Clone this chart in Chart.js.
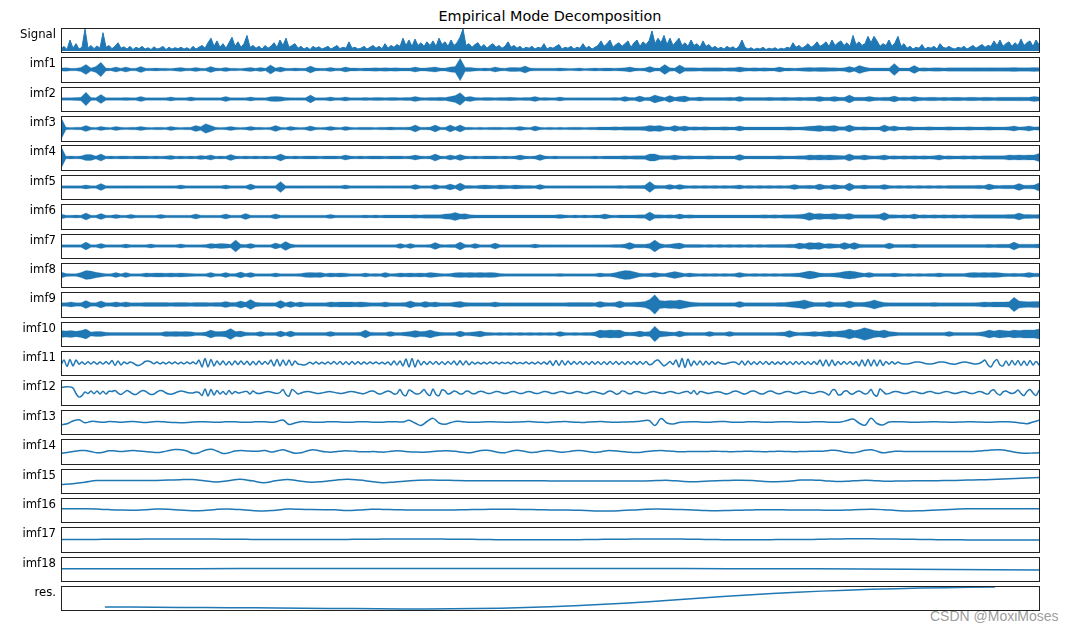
<!DOCTYPE html>
<html>
<head>
<meta charset="utf-8">
<title>Empirical Mode Decomposition</title>
<script src="https://cdn.jsdelivr.net/npm/chart.js"></script>
<style>
body { margin: 0; background: #fff; width: 1074px; height: 631px; overflow: hidden; position: relative; }
canvas { position: absolute; left: 0; }
#title { position: absolute; left: 300px; width: 500px; top: 9px; text-align: center; font: 14.4px/14.4px "DejaVu Sans"; color: #000; }
#mark { position: absolute; left: 930px; top: 609px; font: 14px/14px "Liberation Sans"; color: rgba(130,130,130,0.8); white-space: nowrap; }
</style>
</head>
<body>
<div id="title">Empirical Mode Decomposition</div>
<div id="mark">CSDN @MoxiMoses</div>
<script>
const panelNames = ["Signal", "imf1", "imf2", "imf3", "imf4", "imf5", "imf6", "imf7", "imf8", "imf9",
	"imf10", "imf11", "imf12", "imf13", "imf14", "imf15", "imf16", "imf17", "imf18", "res."];

// signal (height above zero)
const signalValues = [
	2,5,1.5,12,3,8,2,4,24,3,6,2.5,5.5,3,20,4,6,2.5,5,9,
	3,4.5,2,5,1.5,4,2.5,5,2,3.5,1.5,4.5,2,3,5,1.5,4,2,3.5,2.5,
	4,2,3.5,1.5,5,2,4,6,3,9,14,5,11,4,8,3,9,15,5,10,
	4,8,17,4,6,3,5,2,6,3,5,9,4,12,6,14,4,6,8,3,
	5,2,4,1.5,5,3,4.5,2,3.5,5,2,4,6,2.5,4,3,10,3,4,2,
	3,5,2,4,6,3,5,2.5,8,3,6,4,7,5,14,6,12,5,13,6,
	9,5,10,6,11,5,14,7,10,5,12,6,9,15,24,6,8,4,7,9,
	4,7,3,6,8,4,6,3,5,10,4,6,3,5,2,4,3,5,2,4,
	3,8,2,4,3,5,7,2,4,3,5,2,4,3,8,3,5,2,4,6,
	11,5,8,12,4,7,9,5,8,11,4,9,12,5,10,7,11,22,8,14,
	9,17,7,14,6,10,14,6,9,5,12,6,8,4,11,5,7,3,5,2.5,
	4,2,5,3,4.5,2,5,12,4,2,3.5,1.5,3,2,4,1.5,3,2,3.5,1.5,
	3,2,4,3,9,4,6,3,5,8,4,6,10,5,7,10,5,12,6,9,
	11,6,9,5,17,7,10,6,8,16,9,16,11,5,8,6,12,5,9,16,
	5,8,3,5,2,4,3,7,2,4,3,5,2,8,4,3,5,3,2,4,
	3,5,2,4,6,3,5,7,4,6,5,11,6,12,5,8,10,5,9,6,
	13,6,9,11,5,12,7
];

// amplitude envelopes of the dense imfs
const imf1Env = [
	1.5,1.8,1.2,1.3,2,5,1.5,3,7,1.4,1.2,2.5,1.3,2.5,1.2,1.3,3,1.3,1.2,1.4,
	1.2,1.3,1.1,1.4,2,1.3,1.2,2,1.3,1.2,3,1.4,1.3,2,1.2,1.3,1.1,1.4,2,1.3,
	2,1.3,4.5,1.4,2.5,1.3,1.2,1.4,1.2,1.3,3.5,1.4,1.2,1.3,2,1.3,1.2,2.5,1.4,1.5,
	1.3,1.4,1.5,1.6,1.5,1.7,1.5,1.6,1.5,1.4,1.5,2.5,1.4,1.5,2,2.5,1.5,1.4,2.5,3,
	11,2,2,1.4,1.3,1.4,1.3,2.5,1.4,1.3,2,2,1.8,3.5,1.5,1.3,1.2,1.3,1.2,1.3,
	1.5,1.2,1.1,1.2,1.5,1.1,1.3,1.4,1.3,1.5,1.4,1.3,1.4,1.6,2.5,1.4,1.3,1.4,3,1.5,
	1.5,5,1.6,1.5,4.5,1.6,1.7,1.6,1.5,1.7,1.6,1.8,1.6,1.5,1.7,1.6,2.5,1.6,1.5,1.7,
	1.5,1.6,1.4,1.5,2.5,1.4,1.5,1.3,1.4,1.8,2,1.7,1.9,2,1.8,1.6,1.5,1.7,3,1.6,
	4,2.5,1.5,1.4,1.5,1.4,1.5,6,1.5,1.4,1.5,4,1.5,1.6,1.5,1.7,1.6,1.5,1.7,1.6,
	1.6,1.7,1.6,1.8,1.7,1.6,1.8,1.7,1.6,1.7,1.8,2,1.7,1.6,1.7,2,1.8
];
const imf2Env = [
	1.3,1.4,1.3,1.5,1.8,7,1.5,1.3,4.7,1.4,1.3,1.4,1.3,1.5,1.3,1.4,2.5,1.3,1.4,1.3,
	1.3,1.4,2,1.3,1.4,1.3,2,1.4,1.3,1.4,1.3,1.4,1.3,2.5,1.4,1.3,1.4,1.3,2,1.4,
	1.4,1.3,2.2,2.5,2.3,1.5,1.4,1.3,1.4,1.3,4,1.4,1.3,1.4,2,1.3,1.4,2,1.3,1.4,
	1.3,1.5,1.4,1.6,1.5,1.4,1.6,1.5,1.4,1.5,1.6,2.5,1.5,1.4,1.6,1.5,1.7,1.6,2.5,3.5,
	6.5,1.8,2.5,1.5,1.4,1.6,1.5,1.4,1.5,1.6,1.7,1.5,1.4,1.6,1.5,2.5,1.4,1.5,1.3,1.4,
	2,1.3,1.2,1.3,1.2,1.4,1.3,1.2,1.4,1.3,1.4,1.5,1.4,2.5,1.5,1.6,3,1.5,1.8,4,
	2.5,1.6,3.5,1.7,2.5,3,1.6,1.5,2,1.6,1.5,1.6,1.5,1.6,1.7,1.5,2.5,1.6,1.5,1.6,
	1.6,1.5,1.7,1.6,1.5,1.7,1.6,1.5,1.7,1.6,1.8,1.7,2.5,1.7,1.8,2.5,1.7,1.8,4,1.7,
	1.8,1.7,2.5,1.7,1.6,1.8,1.7,3,1.6,1.7,1.6,2.5,1.7,1.6,1.7,1.8,1.6,1.7,1.6,1.7,
	1.7,1.6,1.8,1.7,1.6,1.8,1.7,1.6,1.8,1.7,1.8,1.7,1.9,1.8,1.7,2.5,2
];
const imf3Env = [
	11,1.2,1.1,1.3,1.2,3,1.2,1.1,2,1.2,1.1,2,1.2,1.1,1.2,1.3,2,1.2,1.1,1.2,
	1.2,1.1,2,1.2,1.1,1.2,1.3,3,1.8,4.7,3,1.2,1.1,1.2,2,1.2,1.1,1.2,2,1.2,
	1.2,1.1,1.3,3,1.2,1.1,2,1.2,1.1,1.2,2.5,1.2,1.1,1.2,2,1.2,1.1,2,1.2,1.1,
	1.2,1.3,1.2,1.1,1.3,1.2,1.4,1.3,1.2,1.3,1.4,3.5,1.3,1.2,1.4,3.5,1.3,1.2,3.5,1.4,
	3.5,1.3,1.2,1.1,1.2,1.1,1.2,1.3,1.2,1.1,1.2,1.3,2,1.2,1.1,2.5,1.2,1.1,1.2,1.1,
	1.2,1.1,1.2,1.3,1.2,1.1,1.2,1.3,1.4,1.5,1.4,1.6,1.5,1.6,1.7,1.6,1.8,2,3,2.5,
	3,1.6,1.5,3,1.6,2.5,1.5,1.6,1.5,1.6,1.5,1.4,1.5,1.6,1.5,1.4,2.5,1.5,1.4,1.5,
	1.4,1.5,1.4,1.5,1.4,1.5,1.6,1.5,1.4,1.6,2.2,2.5,3,2.3,2.4,3,1.8,1.7,3.5,1.6,
	1.5,1.6,1.5,1.4,1.5,3.5,1.6,2.5,1.5,1.4,2,1.5,1.4,1.5,1.6,1.5,1.4,1.5,1.6,1.5,
	1.4,1.5,1.6,1.5,1.4,1.5,1.6,1.5,1.4,1.5,1.6,2.5,1.5,1.6,2.5,1.5,1.6
];
const imf4Env = [
	11,1.3,1.4,1.3,1.5,3,3,1.4,3.5,1.3,1.4,1.3,1.5,1.4,1.3,1.4,1.5,1.4,1.3,1.4,
	1.3,1.4,2,1.3,1.4,1.3,1.4,1.3,2,1.4,2.5,1.3,1.4,1.3,3,1.4,1.3,1.4,1.3,1.4,
	1.3,1.4,1.3,1.4,3.5,1.4,1.3,1.4,1.3,1.4,1.5,1.4,1.3,1.4,1.5,1.4,1.3,2.5,1.4,1.3,
	1.4,1.3,1.4,1.5,1.4,1.3,1.4,1.5,1.4,1.3,1.4,2.5,1.4,1.3,1.5,3.5,1.4,1.3,2.5,1.4,
	3,1.4,1.3,1.4,1.3,1.4,1.5,1.4,1.3,1.4,1.3,1.4,2.5,1.4,1.3,1.4,3,1.4,1.3,1.4,
	1.3,1.2,1.3,1.2,1.3,1.2,1.3,1.4,1.3,1.4,1.5,1.4,1.5,1.6,1.5,1.6,1.7,1.8,3.5,3.5,
	2,1.6,1.7,2.5,1.6,1.5,1.6,1.5,1.4,1.5,1.6,1.5,1.4,1.5,1.4,1.5,3,1.5,1.4,1.5,
	1.4,1.5,1.4,1.5,1.6,1.5,1.4,1.5,1.6,1.8,2.5,2.2,2.5,2.3,2.5,2.2,2,1.8,3.5,1.7,
	1.7,2.5,1.6,1.5,1.6,2.5,1.5,1.6,1.5,1.6,1.5,1.6,1.5,1.6,1.5,1.6,2.5,1.5,1.6,1.5,
	1.5,1.6,1.5,1.6,1.5,1.6,1.7,1.6,1.7,1.8,2.5,2.2,2.5,2.3,2.5,2.4,4
];
const imf5Env = [
	1.2,1.3,1.2,1.3,1.2,2,1.3,1.2,3.5,1.3,1.2,1.3,1.2,1.4,1.3,1.2,1.3,1.2,1.3,1.2,
	1.3,1.2,1.3,1.2,2,1.3,1.2,1.3,1.2,1.3,1.2,1.3,1.2,2,1.3,1.2,1.3,1.2,3,1.3,
	1.2,1.3,1.2,1.4,5.5,1.4,1.3,1.2,1.3,1.2,1.3,1.2,1.3,1.2,1.3,1.2,1.3,2,1.2,1.3,
	1.2,1.3,1.2,1.3,1.4,1.3,1.2,1.3,1.4,1.3,1.4,2.5,1.3,1.4,1.3,2.5,1.4,1.5,3,1.6,
	4,1.6,1.5,1.4,1.8,2,1.7,1.6,2,1.8,1.6,2,1.7,1.6,1.5,1.4,2.5,1.4,1.3,1.4,
	1.3,1.2,1.3,1.2,1.3,1.2,1.3,1.2,1.3,1.4,1.3,1.4,1.5,1.4,1.5,1.6,1.5,1.7,5.5,1.7,
	1.6,1.5,2.5,1.5,2.5,1.5,1.4,1.5,1.4,1.5,1.4,1.5,1.4,1.5,1.4,1.5,2,1.4,1.5,1.4,
	1.5,1.4,1.5,1.4,1.5,1.4,1.5,2.5,1.5,1.6,1.7,1.6,3,1.7,1.6,2.5,1.7,1.6,4,1.6,
	1.6,2,1.5,1.6,1.5,2.5,1.5,1.4,1.5,1.4,1.5,1.4,1.5,1.4,1.5,1.4,1.5,1.4,1.5,1.6,
	1.5,1.6,1.5,1.6,1.7,1.6,3,1.7,1.6,1.8,1.7,1.8,3.5,1.8,1.9,2,4
];
const imf6Env = [
	2.5,1.3,1.2,1.4,1.3,3.5,1.3,1.2,3,1.3,1.2,2,1.3,1.2,2,1.3,1.2,1.3,1.2,1.3,
	2,1.3,1.2,1.3,1.2,1.3,1.2,2.5,1.3,1.2,1.3,1.2,1.3,2.5,1.3,1.2,1.3,3,1.3,1.2,
	1.3,1.2,1.3,2.5,1.3,1.2,1.3,1.2,1.3,1.2,1.3,1.2,1.3,1.2,2,1.3,1.2,1.3,1.2,1.3,
	1.3,1.4,1.3,1.4,1.3,1.4,1.5,1.4,1.5,1.4,1.5,1.6,1.5,1.6,1.7,1.6,1.8,2.5,2.8,4,
	2.5,2.8,1.6,1.5,1.4,1.5,1.4,1.5,1.4,1.5,1.4,1.5,1.4,1.5,1.4,1.5,1.4,1.5,1.4,1.5,
	2,1.4,1.3,1.4,1.3,1.4,1.3,1.4,1.5,2.5,1.4,1.3,1.4,1.5,1.4,1.5,1.6,1.7,4.5,1.7,
	1.6,1.5,1.6,1.5,2.5,1.5,1.6,1.5,1.4,1.5,1.4,1.5,1.4,1.5,1.4,1.5,1.4,1.5,1.4,1.5,
	1.5,1.6,1.5,1.6,1.5,1.6,1.7,1.8,2,2.5,4,2.5,3,2.4,2.5,3,2.3,2.2,3,1.8,
	1.7,1.6,1.7,1.8,2,4,1.8,1.6,1.5,1.6,1.5,2.5,1.5,1.6,1.5,1.6,1.5,1.6,1.5,1.6,
	1.5,1.6,1.5,1.6,1.7,1.6,1.7,1.8,1.7,1.8,1.9,2,3.5,2,1.9,1.8,1.9
];
const imf7Env = [
	1.3,1.4,1.3,1.4,1.3,4,1.4,1.3,2.5,1.4,1.3,1.4,1.3,2,1.3,1.4,1.3,1.4,2,1.3,
	1.4,1.3,1.4,1.3,2,1.3,1.4,1.3,1.4,1.5,2.5,2,2.5,2.3,1.8,6,1.8,1.5,2.5,1.4,
	1.3,1.4,1.3,3,1.6,4.5,2,1.4,1.3,1.4,1.3,1.4,1.3,1.4,1.3,1.4,1.3,1.4,1.3,1.4,
	1.3,1.4,1.3,1.4,1.3,1.4,1.3,1.4,2.5,1.4,2.5,1.4,1.3,1.4,1.5,3.5,1.5,1.4,1.5,1.6,
	4,1.6,1.4,2.5,1.4,1.3,1.4,3,1.4,1.3,1.4,1.3,1.4,1.3,1.4,2,1.3,1.4,1.3,1.2,
	1.2,1.3,1.2,1.3,1.2,1.3,1.2,1.3,1.2,1.3,1.4,1.5,1.6,2,3.5,1.8,1.7,1.8,2.5,6,
	2.5,1.6,1.7,2.5,3,1.6,1.5,1.6,1.5,1.4,1.5,1.4,1.5,1.4,1.5,1.4,1.5,1.4,1.5,1.4,
	1.5,1.4,1.5,1.6,1.5,1.6,1.7,1.8,3,2.2,3.5,3,3.5,2,2.5,2,1.8,3.5,2,3.5,
	1.8,1.6,1.5,1.6,1.5,1.6,3,1.6,1.5,1.6,1.5,2,1.5,1.6,1.5,1.6,1.5,1.6,1.5,1.6,
	1.5,1.6,1.5,1.6,1.5,1.6,1.7,1.6,1.7,1.8,1.7,4,1.8,1.9,1.8,1.9,2
];
const imf8Env = [
	3,1.5,1.4,1.3,2.5,4.5,4,2.8,2,1.4,1.3,2.5,1.4,2.5,1.4,1.3,1.4,2,1.8,2,
	2,1.8,2,1.9,2,1.8,1.5,1.4,1.3,1.4,2.5,1.4,1.3,2.5,1.4,1.5,3,1.5,2.5,1.4,
	1.3,1.4,1.3,2,1.4,1.3,1.4,1.3,1.5,2.3,2.5,2.4,2.5,1.6,2,1.8,2,1.9,1.4,1.3,
	1.4,2,1.4,1.5,1.4,2.5,1.4,1.5,2,1.8,2,1.9,2,1.8,2.5,2,1.5,1.4,1.5,2.2,
	2.5,2.4,2.5,2.3,2.5,2.4,2.5,2.3,1.6,1.4,1.3,1.4,1.3,1.4,1.3,1.4,1.3,1.4,1.3,1.2,
	1.5,1.2,1.3,1.2,1.3,1.2,1.3,1.4,2,1.5,1.6,2.2,3.5,4.5,4.3,3,1.8,1.6,1.7,2.5,
	1.7,1.6,2.5,3.5,2.5,1.6,2,1.5,1.4,1.5,1.4,1.5,1.4,1.5,1.4,1.5,2.5,1.5,1.4,1.5,
	1.4,1.5,1.4,1.5,1.4,1.5,1.6,1.7,2,3,4,3.2,2,1.7,1.8,2,2.5,3.5,4,3.5,
	2.5,1.8,2.5,1.6,1.5,1.6,1.5,2,1.5,1.4,1.5,1.4,1.5,1.4,1.5,1.6,2,1.6,1.5,1.6,
	1.5,1.6,2.2,2.5,2.3,2.5,2.4,2.5,2.2,1.7,1.6,1.7,1.6,1.7,2.5,1.8,1.7
];
const imf9Env = [
	1.7,1.8,2.5,1.7,1.8,4,1.8,1.7,3.5,1.8,1.7,2.5,1.8,2.5,1.7,1.8,1.7,2,1.9,2,
	1.9,2,1.8,2,1.9,2,1.8,2,1.9,2,1.8,2,1.9,3,2,2,3.5,2.2,5,2.2,
	1.8,1.7,1.8,1.7,4,1.8,3,1.8,2.5,1.7,1.8,1.7,1.8,1.7,2.5,2.3,2.5,2.4,2.5,2.3,
	2.5,2.2,1.8,1.7,1.8,2.5,1.8,1.7,1.8,1.9,3.5,1.9,1.8,3,1.9,2.5,1.8,1.7,1.8,2.5,
	3,2,1.8,1.7,1.8,1.7,1.8,2.5,1.7,1.6,1.7,1.6,1.7,1.6,1.7,1.6,1.7,1.6,1.7,1.6,
	1.6,1.7,2,1.9,2,1.9,2,1.8,3,1.9,1.8,2,3.5,2,2,2.2,2.5,3,5,9.5,
	4,3.5,4,3.6,4.5,3.5,2.5,2,1.8,1.7,1.8,1.7,1.8,1.7,1.8,1.7,3,1.8,1.7,1.8,
	1.7,1.8,1.7,1.8,1.9,2,2.5,3,3.5,4.5,3,2,1.9,2,3,2,1.9,2.2,3.5,2.2,
	1.9,2.2,3,4.5,3,2,1.8,1.7,1.6,1.7,1.6,1.7,1.6,1.7,1.6,2,1.6,1.7,1.6,1.7,
	1.7,1.8,1.7,1.8,2,2.5,2.3,2.5,2.4,2.5,2.6,7,3.5,3,2.8,3,3
];
const imf10Env = [
	3.5,3,3.5,2.8,3.5,5,2,2.5,2.5,1.8,1.5,1.6,1.5,1.6,1.5,1.6,1.5,1.6,1.5,1.6,
	1.5,2.5,2.3,2.5,2.4,2.5,2.3,1.6,1.5,2,4,2.5,2.5,3,5.5,2.5,3,1.8,1.6,1.5,
	2.5,1.6,1.5,1.6,3,1.6,3,1.6,1.5,1.6,1.5,1.6,1.5,1.6,2.5,1.6,1.5,1.6,1.5,1.6,
	1.8,4,1.8,1.6,1.5,1.6,2.5,1.6,1.5,2,2.5,3.5,2.5,2.8,4,2.5,1.8,1.6,1.5,1.6,
	3,1.6,1.8,2.2,3,1.8,1.5,1.4,1.5,1.4,1.5,1.4,1.5,1.4,1.5,1.4,1.5,1.4,1.5,1.4,
	2.5,1.5,1.4,1.5,1.4,1.5,1.6,2,4,3.5,4,3.8,4,2,1.8,2,3,2,2.5,8,
	3,2.5,2,1.8,3,1.8,1.6,1.5,1.6,1.5,2.5,1.5,1.6,1.5,2.5,1.5,1.6,1.5,1.6,1.5,
	1.6,1.5,1.6,1.5,1.8,2,3.5,2,1.6,1.8,2,2.5,2,2.5,3,2.5,3,3.5,5,3.5,
	4.5,6.5,5,3.5,3,4,2.5,2,1.6,1.5,1.6,1.5,1.6,1.5,1.6,1.5,1.6,1.5,2.5,1.6,
	1.5,1.6,1.5,1.6,1.8,2.5,4,3,4,3.5,3,4,3.5,4,4.2,4,5
];

// slower imfs as plain series
const imf11Values = [
	-2,3,-3.5,3.5,-3,3,-1.2,1,-1.3,1.2,-1,1.3,-1.2,1,-1.1,1.2,-1,2.5,-2.5,2,
	-2,1,-0.8,1,0,-2,-2.5,-1,1.5,2,1,-0.8,1,-1,0.8,-1,1,-0.8,1,-1,
	0.8,-1,1,-0.8,1,-1,3,-4,4.5,-4,3.5,-3,2,-1.8,2,-2,1.5,-2,2,-1.5,
	2,-1.5,1.8,-2,1.5,-1.8,2,-1.5,1.5,-1.2,3,-3,3.5,-3,3,-2.5,3,-2.5,2,-1,
	-1.5,-2,-1,0.8,-1,1,-1,0.8,-1,1,-1,1.5,-1.3,1.5,-1.5,1.2,-1.5,1.5,-1.2,1.3,
	-1.2,1,-1,1,-0.8,1,-1,0.8,-1,1,-2,2,-2,2,-3,4,-4,4.5,-4,3,
	-2,1.5,-1.5,1.5,-1.2,1.5,-1.5,1.2,-1.5,1.5,-1.2,2,-2,2.2,-2,2,-1.8,1,-1,0.8,
	-1,0.8,-1,1,-0.8,1,-1,0.8,-0.6,0.8,-1,1,-0.8,0.6,-0.8,1,-1,0.8,-1,1,
	-1,1,-1.2,2,-2.5,2.5,-2.5,2.5,-2,2,-1.5,1.5,-1.2,1.5,-1.5,1.2,-1.5,1.5,-1.2,1.2,
	-1.5,1.2,-1.5,1.5,-1.2,1.5,-1.5,1.2,-1.5,1.5,-1.2,1.5,-1.5,1.5,-1.2,1.5,-1.5,-1,2,3,
	0,-3,-1,1.5,-1.5,3,-4,4.5,-4.5,4,-3,2,-2,2,-2,1.8,-1.5,1.5,-1.2,1,
	-0.5,-1,-0.5,0.5,1,0.5,-1.5,2,-2,2,-1.5,1.2,-1.5,1.5,-1.2,1.5,-1.5,1.2,-1.2,1,
	-1.2,1.5,-1.5,1.2,-1.5,1.5,-1.2,1.5,-1.5,1.2,-1.5,1.5,-1.5,3,-3,3,-3,3,-2.5,1.5,
	-1.5,1.5,-1.2,1.5,-1.5,1.5,-3,3,-3,3.5,-3,3,-3,3,-2.5,1.5,-1.2,1.2,-1,1,
	-0.5,-1,-1,-0.5,0.5,1,1,0.5,-0.5,-1,-1,-0.5,0.5,1,1,0.5,-0.5,-1,-1.2,-0.5,
	0.5,1,0.8,0,-0.8,-1,-0.5,1,3,-2,-4,1,3.5,-2,-3,2,-2.5,2.5,-2,2.5,
	-2.5,2,-2.5,2.5,-2,1.5,-2
];
const imf12Values = [
	5,5.5,5.7,5.5,4.5,-1,-4.5,-3,0.5,-1,1.5,-1.2,1.5,-1.5,1.2,-1.5,1.2,1,2,-0.5,
	-2,0,2,0.5,-1.5,-2,0,1.8,1.5,-0.5,-2,-1.5,0.5,2,1.5,-0.5,-1.5,-1.5,-0.5,0.8,
	1.5,1,0,-0.5,-0.5,0.5,0,-3,3.5,-3.5,3,-2.5,2,-1.5,1,-2,2,-1.5,1,-0.5,
	0,0.8,1,-1.5,1.5,-0.5,-1,-0.5,0.5,1,0.5,-0.5,-1,0,3,-2,-3.5,3,1,-1.5,
	-0.5,0.5,1,0.8,0,-0.8,-1,-0.5,0.3,0.8,0.8,0.2,-0.5,-1,-0.8,0,0.8,1,0.5,-0.3,
	-1,-1.2,0,1.2,1.5,0,-1.5,-1,0.5,1.5,0.5,-1.5,-1,3,-2,-3,2.5,1,-1,-1.5,
	0,3,-1,-3,3.5,-2,-3,2.5,1.5,-1.5,-0.5,1.5,0.5,-1.5,-1,1.2,1,-1,-1.2,0.5,
	1.2,0.5,-0.8,-1,0,1,0.8,-0.5,-1,-0.5,0.8,1,0,-1,-0.8,0.5,1,0.3,-0.8,-1,
	0,1,0.8,-0.3,-1,-0.5,0.6,1,0.2,-0.8,-0.8,0.3,0.9,0.5,-0.6,-1,-0.2,0.8,0.8,-0.3,
	-1,-1.5,0.5,1.5,0.5,-1.5,-1,1.5,1,-1,-1.2,0.5,1,0.3,-0.8,-1,0,0.8,0.8,0,
	-0.8,-0.8,0.2,0.9,0.5,-0.6,-1,0,0.8,1,-1,2,-2,1,0.5,-0.5,-1,-0.3,0.5,0.8,
	0.3,-1,-1.5,-0.5,1,1.5,0.5,-1,-1.5,-0.3,1.2,1.5,0.3,-1.2,-1.5,0,1.3,1.2,-0.3,-1.3,
	-1,0.3,1,0.8,-0.5,-1,-0.3,0.8,1,0,-0.8,-0.8,0.3,1,0.5,-0.8,-2.5,2,2.5,-2,
	-2,1,1.5,-1,-1.5,0.5,1.5,0,-1.5,-0.5,3,-2,-3.5,3.5,1,-1.5,-1,0.3,1,0.8,
	-0.3,-1,-0.8,0.3,1,0.6,-0.5,-1,-0.3,0.8,1,0,-0.8,-0.8,0.3,1,0.6,-0.5,-1,-0.5,
	0.5,1,0.3,-0.8,-1,0,1,0.5,-1,-1.5,1.5,2.5,-1,-2.5,0.5,1.5,0,-1,0,2.5,
	-1,-3,1,3,-0.5,-3,2
];
const imf13Values = [
	-2.7,-1.8,1,2.3,-0.8,0.6,0.3,-0.3,0.4,0.2,-0.3,0.3,0.5,0,-0.4,0,0.4,0.2,-0.3,-0.6,
	-0.7,-0.5,0,0.3,0.3,0,-0.3,0,0.3,0.2,-0.2,-0.3,0,0.3,0.2,-0.3,0.5,2,-2.5,-1,
	0.3,0.2,-0.2,-0.3,0,0.3,0.2,-0.2,-0.3,0,0.3,0.2,-0.2,-0.3,0,0.3,0.2,0,1.7,-1,
	-3.5,0.5,3.7,-1,-2.3,-0.5,0.7,0.3,-0.2,-0.3,0,0.3,0.3,0,-0.3,-0.3,0,0.3,0.4,0,
	-0.3,-0.4,0,0.3,0.4,0,-0.3,-0.4,0,0.3,0.4,0,-0.3,-0.3,0,0.3,0.5,1.2,1.5,-3.5,
	3.5,-1,-2,-0.5,0,0.3,0.2,-0.2,-0.3,0.3,0.6,0.3,-0.2,-0.3,0,0.3,0.2,-0.2,-0.3,0,
	0.2,0.3,0,-0.2,-0.3,0,0.3,0.2,-0.2,-0.3,0,1.5,3,-1,-3.3,3.8,-1.5,-3,0,0.3,
	0.2,0,-0.3,-0.3,0,0.3,0.3,0,-0.3,-0.3,0,0.3,0.3,0,-0.3,-0.3,0,0.3,0.2,-0.3,
	-1,-1.7,0,1.7
];
const imf14Values = [
	-1.7,-1,0,0.8,1,0,-1.3,-0.8,0.7,0.5,0,0.5,1,0.4,0,-0.6,-1,-0.3,1,1.9,
	1.8,0.5,-2,-1.2,1.3,2.3,0.5,-2,-1.2,0.5,1,0.6,0.2,0.3,1,-0.6,0.5,1.7,0,-1.6,
	-1.3,0.5,1.7,0.8,-0.3,-0.7,0,0.6,0.6,0.2,-0.2,-0.3,0,-0.4,-0.6,0.3,0.7,0.3,-0.2,-0.5,
	-0.7,-0.5,0,0.4,0.7,0.6,0,-0.8,-1.3,-0.3,1,1.3,0.3,-1,-1.2,0.3,1.3,0.5,-0.7,-0.8,
	0.3,1,0.5,-0.5,-0.6,0.3,0.9,0.8,-0.3,-1,-0.2,0.8,0.8,0.3,-0.3,-0.8,-1,-0.5,0.3,0.8,
	1,0.6,0.2,-0.3,-0.2,0,0,0,0.1,0.2,0.1,-0.1,-0.2,0,0.2,0.2,0,-0.2,-0.1,0.1,
	0.2,0,-0.2,-0.1,0.1,0.2,0.2,0.3,1,1.3,0.3,-0.8,-1.3,-0.3,1.2,1.7,0.3,-1.3,-0.5,0.3,
	0.2,0,-0.1,0,0.1,0,-0.1,0,0.1,0.1,0,0,0.1,0.4,0.9,1.4,1.7,1.5,0.5,-0.7,
	-1.5,-1.7,-1.5,-1.3
];
const imf15Values = [
	-3.7,-2.8,-1.2,0.4,0.5,0.5,0.5,0.5,0.6,0.9,
	1.4,1.5,0.3,-0.9,0.2,1.7,0.2,-1.7,0.2,1.6,
	0,-1.3,-0.5,0.8,1.7,0.9,-0.4,-1.7,-1,0,
	0.8,1,0.8,0.5,0.3,0.3,0.3,0.3,0.3,0.2,
	0.2,0.1,0.1,0.1,0.1,0,0,-0.1,-0.1,0.1,
	0.5,0.6,-0.2,-0.7,-0.2,0.3,0.5,0.8,0.4,-0.5,
	-0.8,-0.3,0.9,1.1,0.3,-0.5,-0.2,0.6,0.6,-0.2,
	-0.1,0.1,0.2,0.3,0.4,0.6,0.9,1.2,1.6,2.1,
	2.6,3.1,3.5
];
const imf16Values = [
	1.3,1.3,1.2,0.9,0.4,0,-0.2,0.3,0.9,0.7,
	-0.1,-0.7,-0.4,0.6,1,0.4,-0.5,-1,-0.2,0.9,
	0.8,0.4,0.2,0.2,-0.6,0,0.7,0.6,0.3,0.1,
	0,0,0,0.1,0.3,0.5,0.7,0.7,0.7,0.5,
	0.3,0.1,0,-0.2,-0.5,-0.9,-1,-0.6,0,0.7,
	1,0.8,0.4,0,-0.5,-0.7,-0.5,-0.2,0.1,0.3,
	0.2,0.1,0,0,-0.2,-0.3,0,0.5,0.7,0.3,
	-0.4,-1,-0.8,-0.2,0.3,0.8,1.2,1.3,1.3,1.3,
	1.3,1.3,1.3
];
const imf17Values = [
	0,0,0.1,0.1,0.2,0.3,0.3,0.4,0.4,0.5,
	0.5,0.5,0.5,0.4,0.3,0.2,0.1,0,-0.1,-0.1,
	-0.1,-0.1,-0.1,0,0.1,0.2,0.3,0.4,0.5,0.5,
	0.5,0.4,0.4,0.3,0.2,0.1,-0.1,-0.2,-0.3,-0.3,
	-0.3,-0.3,-0.3,-0.2,-0.1,0.1,0.2,0.3,0.4,0.4,
	0.5,0.5,0.4,0.3,0.1,-0.1,-0.2,-0.3,-0.3,-0.2,
	-0.1,-0.1,0,0.1,0.3,0.5,0.7,0.7,0.7,0.5,
	0.4,0.2,0.1,-0.1,-0.2,-0.3,-0.4,-0.4,-0.5,-0.5,
	-0.5,-0.5,-0.5
];
const imf18Values = [0.3,0.35,0.4,0.4,0.45,0.45,0.45,0.4,0.3,0.05,-0.4,-1];
const resValues = [-9,-9.3,-9.6,-9.9,-10.3,-10.7,-11,-10.9,-10.2,-8.7,-6.5,-3.6,-0.1,3.4,6.2,8.3,9.9,10.9,11.5];

const blue = "#1f77b4";
const imfLimit = 12.25;

function panelBox(i){
	let top = Math.round(28 + i * 29.37);
	let bottom = Math.round(52.4 + i * 29.37);
	return {top: top, bottom: bottom};
}

function pointsOf(values){
	let pts = [];
	for(let i = 0; i < values.length; i++){
		pts.push({x: i, y: values[i]});
	}
	return pts;
}

function mirrorOf(values){
	let out = [];
	for(let i = 0; i < values.length; i++){
		out.push(-values[i]);
	}
	return out;
}

function autoRange(values){
	let lo = Math.min(...values);
	let hi = Math.max(...values);
	let pad = (hi - lo) * 0.05;
	return {min: lo - pad, max: hi + pad};
}

// frame around each axes + the row label on the left
const framePlugin = {
	id: "frame",
	afterDraw(chart, args, opts){
		let a = chart.chartArea;
		let ctx = chart.ctx;
		ctx.save();
		ctx.strokeStyle = "#222";
		ctx.lineWidth = 1;
		ctx.strokeRect(a.left + 0.5, a.top + 0.5, a.right - a.left, a.bottom - a.top);
		ctx.fillStyle = "#000";
		ctx.font = "11.7px 'DejaVu Sans'";
		ctx.textAlign = "right";
		ctx.textBaseline = "alphabetic";
		ctx.fillText(opts.label, 56, a.top + 9.5);
		ctx.restore();
	}
};

const panels = [
	{kind: "signal", values: signalValues},
	{kind: "band", values: imf1Env},
	{kind: "band", values: imf2Env},
	{kind: "band", values: imf3Env},
	{kind: "band", values: imf4Env},
	{kind: "band", values: imf5Env},
	{kind: "band", values: imf6Env},
	{kind: "band", values: imf7Env},
	{kind: "band", values: imf8Env},
	{kind: "band", values: imf9Env},
	{kind: "band", values: imf10Env},
	{kind: "line", values: imf11Values, tension: 0.3},
	{kind: "line", values: imf12Values, tension: 0.3},
	{kind: "line", values: imf13Values, tension: 0.4},
	{kind: "line", values: imf14Values, tension: 0.4},
	{kind: "line", values: imf15Values, tension: 0.4},
	{kind: "line", values: imf16Values, tension: 0.4},
	{kind: "line", values: imf17Values, tension: 0.4},
	{kind: "line", values: imf18Values, tension: 0.4},
	{kind: "res", values: resValues, tension: 0.4}
];

function makePanel(i, panel){
	let box = panelBox(i);
	let canvas = document.createElement("canvas");
	canvas.width = 1074;
	canvas.height = box.bottom - box.top + 6;
	canvas.style.top = (box.top - 3) + "px";
	document.body.appendChild(canvas);

	let n = panel.values.length;
	let xMin = 0;
	let xMax = n - 1;
	let yLim = {min: -imfLimit, max: imfLimit};
	let datasets = [];

	if(panel.kind === "signal"){
		yLim = autoRange(panel.values.concat([0]));
		datasets.push({data: pointsOf(panel.values), borderColor: blue, backgroundColor: blue,
			borderWidth: 1, fill: {value: 0}, tension: 0});
	} else if(panel.kind === "band"){
		// filled band between the upper envelope and its mirror
		datasets.push({data: pointsOf(panel.values), borderColor: "rgba(31,119,180,0.5)", backgroundColor: blue,
			borderWidth: 0.5, fill: "+1", tension: 0});
		datasets.push({data: pointsOf(mirrorOf(panel.values)), borderColor: "rgba(31,119,180,0.5)",
			borderWidth: 0.5, fill: false, tension: 0});
	} else {
		if(panel.kind === "res"){
			yLim = autoRange(panel.values);
			xMin = -0.05 * (n - 1);
			xMax = 1.05 * (n - 1);
		}
		datasets.push({data: pointsOf(panel.values), borderColor: blue, borderWidth: 1.5,
			fill: false, tension: panel.tension});
	}

	return new Chart(canvas, {
		type: "line",
		data: {datasets: datasets},
		options: {
			responsive: false,
			animation: false,
			devicePixelRatio: 1,
			events: [],
			layout: {padding: {left: 61, right: 35, top: 3, bottom: 3}},
			elements: {point: {radius: 0}, line: {borderJoinStyle: "round", borderCapStyle: "round"}},
			plugins: {
				legend: {display: false},
				tooltip: {enabled: false},
				frame: {label: panelNames[i]}
			},
			scales: {
				x: {type: "linear", display: false, min: xMin, max: xMax},
				y: {display: false, min: yLim.min, max: yLim.max}
			}
		},
		plugins: [framePlugin]
	});
}

for(let i = 0; i < panels.length; i++){
	makePanel(i, panels[i]);
}
</script>
</body>
</html>
